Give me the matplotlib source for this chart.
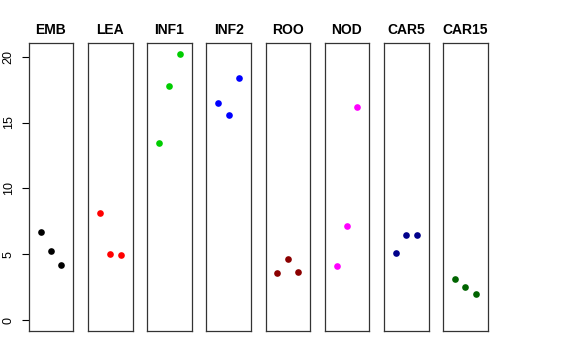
import matplotlib.pyplot as plt
import numpy as np

plt.rcParams['font.family'] = ['Liberation Sans', 'DejaVu Sans']

tissues = ["EMB", "LEA", "INF1", "INF2", "ROO", "NOD", "CAR5", "CAR15"]
colors = ["black", "red", "#00CD00", "blue", "#8B0000", "magenta", "#00008B", "#006400"]
emb = [6.72, 5.28, 4.17]
lea = [8.12, 5.05, 4.98]
inf1 = [13.45, 17.78, 20.23]
inf2 = [16.46, 15.55, 18.38]
roo = [3.56, 4.68, 3.66]
nod = [4.10, 7.13, 16.21]
car5 = [5.08, 6.50, 6.50]
car15 = [3.16, 2.55, 2.00]
values = [emb, lea, inf1, inf2, roo, nod, car5, car15]
reps = [1, 2, 3]

W, H = 576, 360
fig = plt.figure(figsize=(W / 100, H / 100), dpi=100)

left0 = 28.7
step = 59.2
pw = 44.6
top = 43.3
bottom = 331.0

for i, (name, col, vals) in enumerate(zip(tissues, colors, values)):
    x0 = left0 + i * step
    ax = fig.add_axes([x0 / W, 1 - bottom / H, pw / W, (bottom - top) / H])
    ax.plot(reps, vals, 'o', color=col, ms=4.8, mec='none')
    ax.set_xlim(-0.16, 4.16)
    ax.set_ylim(-0.81, 21.01)
    ax.set_xticks([])
    for s in ax.spines.values():
        s.set_color('#333333')
        s.set_linewidth(0.9)
    ax.set_title(name, fontsize=10, fontweight='bold', pad=7)
    if i == 0:
        ax.set_yticks([0, 5, 10, 15, 20])
        ax.set_yticklabels(['0', '5', '10', '15', '20'], rotation=90, va='center', fontsize=9)
        ax.tick_params(axis='y', length=5, width=0.8, pad=5)
    else:
        ax.set_yticks([])

fig.savefig('out.png', dpi=100)
